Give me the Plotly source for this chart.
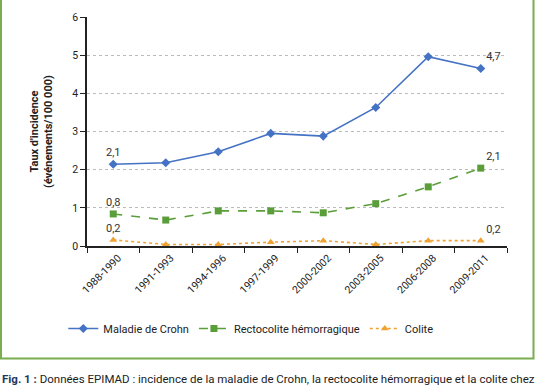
import plotly.graph_objects as go

periods = ["1988-1990", "1991-1993", "1994-1996", "1997-1999",
           "2000-2002", "2003-2005", "2006-2008", "2009-2011"]
crohn = [2.14, 2.18, 2.47, 2.95, 2.88, 3.63, 4.96, 4.65]
recto = [0.84, 0.68, 0.92, 0.92, 0.87, 1.11, 1.55, 2.04]
colite = [0.16, 0.04, 0.04, 0.10, 0.14, 0.04, 0.14, 0.14]
crohn_labels = ["2,1", "", "", "", "", "", "", "4,7"]
recto_labels = ["0,8", "", "", "", "", "", "", "2,1"]
colite_labels = ["0,2", "", "", "", "", "", "", "0,2"]
yticks = [0, 1, 2, 3, 4, 5, 6]

FONT = "Roboto"
BLUE = "#4472C4"
GREEN = "#5A9E3A"
ORANGE = "#EFA232"
FRAME = "#78AE4E"

pos_first_last = ["top center"] + ["top center"] * 6 + ["top right"]

fig = go.Figure()
fig.add_trace(go.Scatter(
    x=periods, y=crohn, name="Maladie de Crohn", mode="lines+markers+text",
    text=crohn_labels, textposition=pos_first_last,
    textfont=dict(size=11, color="#333", family=FONT),
    line=dict(color=BLUE, width=1.6),
    marker=dict(symbol="diamond", size=7, color=BLUE)))
fig.add_trace(go.Scatter(
    x=periods, y=recto, name="Rectocolite hémorragique", mode="lines+markers+text",
    text=recto_labels, textposition=pos_first_last,
    textfont=dict(size=11, color="#333", family=FONT),
    line=dict(color=GREEN, width=1.6, dash="dash"),
    marker=dict(symbol="square", size=7, color=GREEN)))
fig.add_trace(go.Scatter(
    x=periods, y=colite, name="Colite", mode="lines+markers+text",
    text=colite_labels, textposition=pos_first_last,
    textfont=dict(size=11, color="#333", family=FONT),
    line=dict(color=ORANGE, width=1.6, dash="dot"),
    marker=dict(symbol="triangle-up", size=7, color=ORANGE)))

fig.update_layout(
    width=536, height=386,
    margin=dict(l=87, r=29, t=17, b=140, autoexpand=False),
    paper_bgcolor="white", plot_bgcolor="white",
    font=dict(family=FONT, size=10, color="#222"),
    showlegend=True,
    legend=dict(orientation="h", x=0.39, xanchor="center", y=-0.36, yanchor="middle",
                font=dict(size=11, color="#222"), itemwidth=30,
                traceorder="normal"),
    xaxis=dict(type="category", range=[-0.5, 7.5], showline=True, linecolor="#222",
               linewidth=1.5, ticks="outside", tickson="boundaries", ticklen=5,
               tickcolor="#222", tickwidth=1.2, tickangle=-45, showgrid=False,
               automargin=False, ticklabelshift=5,
               tickfont=dict(size=10.5, color="#222"), fixedrange=True),
    yaxis=dict(range=[0, 6], tickvals=yticks, showline=True, linecolor="#222",
               linewidth=1.5, ticks="outside", ticklen=5, tickcolor="#222",
               tickwidth=1.2, showgrid=True, gridcolor="#BBBBBB", griddash="dot",
               automargin=False, fixedrange=True,
               gridwidth=1, zeroline=False, tickfont=dict(size=10.5, color="#222"),
               title=dict(text="<b>Taux d'incidence<br>(événements/100 000)</b>",
                          font=dict(size=11, color="#222"), standoff=17)),
)

# green frame around the figure
fig.add_shape(type="rect", xref="paper", yref="paper",
              x0=(1 - 87) / 420, x1=(533.5 - 87) / 420,
              y0=(246 - 358.5) / 229, y1=(246 + 10) / 229,
              line=dict(color=FRAME, width=2), fillcolor="rgba(0,0,0,0)", layer="below")

fig.add_annotation(
    xref="paper", yref="paper", x=(0 - 87) / 420, y=(246 - 379) / 229,
    xanchor="left", yanchor="middle", showarrow=False,
    text="<b><span style='color:#1F3864'>Fig. 1 :</span></b> Données EPIMAD : incidence de la maladie de Crohn, la rectocolite hémorragique et la colite chez",
    font=dict(size=11.5, color="#222", family=FONT))

fig.write_html("out.html", config={"displayModeBar": False},
               post_script="document.body.style.margin='0px';document.body.style.overflow='hidden';")
